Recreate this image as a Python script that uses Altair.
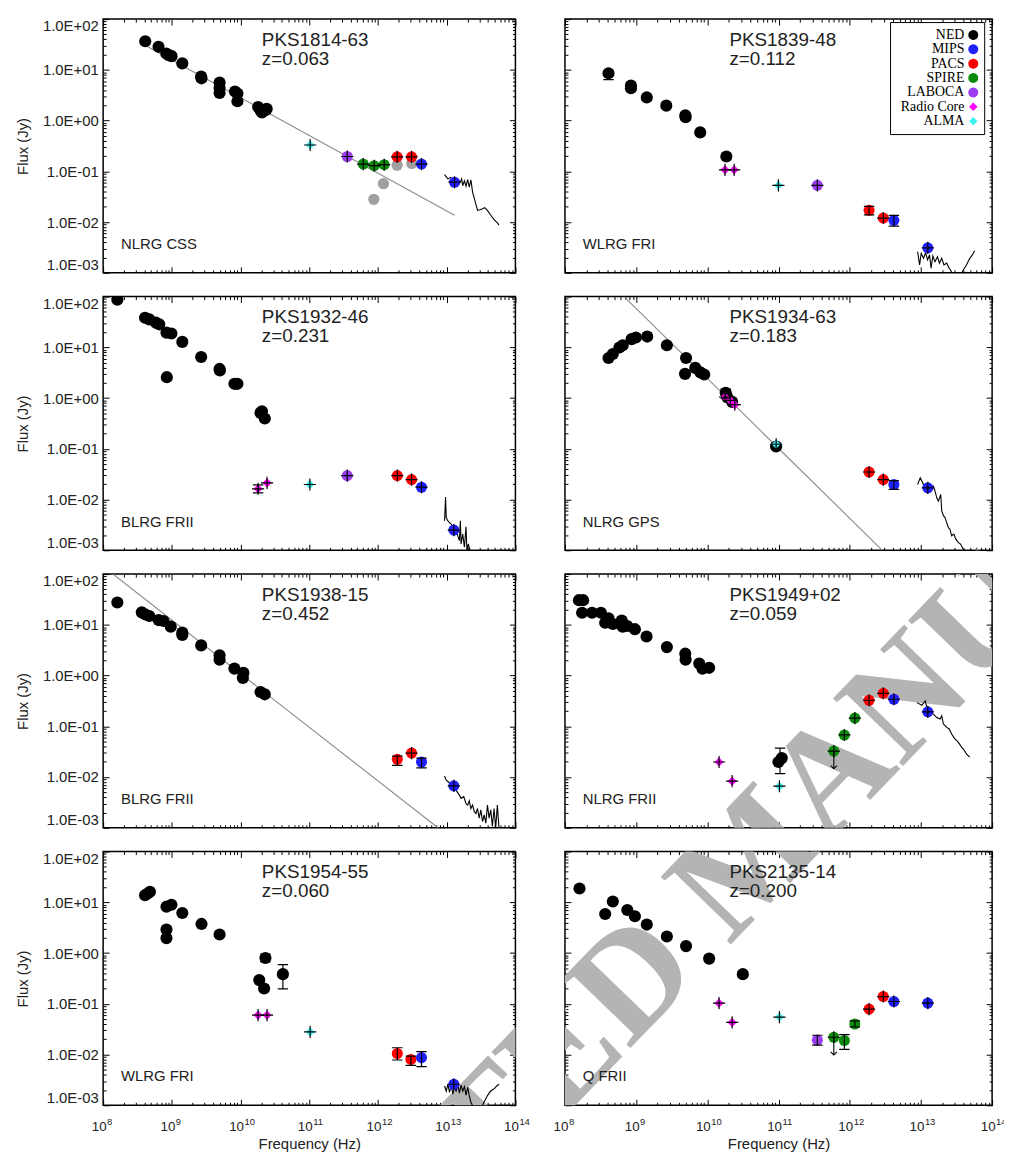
import math
import altair as alt
import pandas as pd

# ---------------- axis ranges and tick values ----------------
X_DOMAIN = [1e8, 1e14]
Y_DOMAIN = [1e-3, 1e2]
X_MAJOR = [1e8, 1e9, 1e10, 1e11, 1e12, 1e13, 1e14]
X_MINOR = [m * 10.0 ** e for e in range(8, 14) for m in range(2, 10)]
Y_MAJOR = [1e-3, 1e-2, 1e-1, 1e0, 1e1, 1e2]
Y_MINOR = [m * 10.0 ** e for e in range(-3, 2) for m in range(2, 10)]

INSTRUMENTS = ["NED", "MIPS", "PACS", "SPIRE", "LABOCA", "Radio Core", "ALMA"]
INST_COLORS = ["#000000", "#2020ff", "#ff0000", "#0a8a0a", "#9b3cf0", "#ff00ff", "#3ff2f2"]
INST_SHAPES = ["circle", "circle", "circle", "circle", "circle", "diamond", "diamond"]

# ---------------- panel 1 : PKS1814-63 ----------------
P1_NED = [(4.1e8, 36.6), (6.4e8, 28.4), (8.3e8, 21.0), (9.0e8, 19.5), (9.9e8, 18.6), (1.42e9, 13.4),
          (2.67e9, 7.4), (2.7e9, 6.8), (4.95e9, 5.6), (4.95e9, 4.4), (4.95e9, 3.5), (8.3e9, 3.75),
          (9.0e9, 3.4), (9.0e9, 2.4), (1.8e10, 1.85), (1.95e10, 1.6), (2.05e10, 1.45), (2.3e10, 1.6),
          (2.4e10, 1.7)]
P1_OBS = [("ALMA", 1.03e11, 0.33, True), ("LABOCA", 3.57e11, 0.196, True), ("SPIRE", 6.1e11, 0.139, True),
          ("SPIRE", 8.8e11, 0.129, True), ("SPIRE", 1.23e12, 0.135, True), ("PACS", 1.9e12, 0.193, True),
          ("PACS", 3.08e12, 0.193, True), ("MIPS", 4.3e12, 0.139, True), ("MIPS", 1.3e13, 0.061, True)]
P1_GRAY = [(8.7e11, 0.028), (1.2e12, 0.057), (1.9e12, 0.132), (3.1e12, 0.143)]
P1_FIT = [(4.07e8, 30.6), (1.3e13, 0.0136)]
P1_ERR = []
P1_UL = []
P1_SPEC_NU = [9.3e12, 1.04e13, 1.14e13, 1.30e13, 1.53e13, 1.65e13, 1.71e13, 1.81e13, 1.91e13, 2.02e13,
              2.13e13, 2.25e13, 2.38e13, 2.57e13, 2.81e13, 3.07e13, 3.32e13, 3.58e13, 3.91e13, 4.38e13,
              4.89e13, 5.46e13, 5.77e13]
P1_SPEC_F = [0.086, 0.071, 0.076, 0.061, 0.056, 0.071, 0.052, 0.065, 0.051, 0.069, 0.049, 0.068, 0.039,
             0.0267, 0.017, 0.0175, 0.0183, 0.0192, 0.017, 0.0136, 0.0112, 0.0096, 0.0087]

# ---------------- panel 2 : PKS1839-48 ----------------
P2_NED = [(4.09e8, 8.56), (8.45e8, 4.9), (8.45e8, 4.36), (1.41e9, 2.86), (2.65e9, 1.97), (4.91e9, 1.27),
          (4.95e9, 1.16), (7.94e9, 0.585), (1.85e10, 0.196)]
P2_OBS = [("Radio Core", 1.77e10, 0.107, True), ("Radio Core", 2.38e10, 0.107, True),
          ("ALMA", 9.96e10, 0.053, True), ("LABOCA", 3.51e11, 0.053, True), ("PACS", 1.87e12, 0.017, False),
          ("PACS", 2.96e12, 0.012, True), ("MIPS", 4.17e12, 0.0108, False), ("MIPS", 1.25e13, 0.0031, True)]
P2_GRAY = []
P2_FIT = []
P2_ERR = [(4.09e8, 6.4, 9.6), (1.41e9, 2.55, 3.1), (1.87e12, 0.0138, 0.0204), (4.17e12, 0.0083, 0.0136)]
P2_UL = []
P2_SPEC_NU = [8.99e12, 9.58e12, 1.01e13, 1.09e13, 1.16e13, 1.24e13, 1.32e13, 1.39e13, 1.47e13, 1.58e13,
              1.71e13, 1.82e13, 1.96e13, 2.11e13, 2.30e13, 2.50e13, 2.70e13, 3.00e13, 3.34e13, 3.72e13,
              4.00e13, 4.36e13, 4.85e13, 5.28e13, 5.69e13]
P2_SPEC_F = [0.00261, 0.00143, 0.00242, 0.00193, 0.00249, 0.0018, 0.00225, 0.00123, 0.00215, 0.00166,
             0.00208, 0.00155, 0.00193, 0.00143, 0.00155, 0.00123, 0.00103, 0.00098, 0.001, 0.00098,
             0.00118, 0.00143, 0.00193, 0.00225, 0.00273]

# ---------------- panel 3 : PKS1932-46 ----------------
P3_NED = [(1.61e8, 87.0), (4.07e8, 38.3), (4.7e8, 35.6), (5.87e8, 30.6), (6.55e8, 28.4), (8.35e8, 19.5),
          (9.86e8, 18.7), (1.42e9, 12.8), (2.67e9, 6.44), (4.95e9, 3.75), (5.0e9, 3.5), (8.45e8, 2.58),
          (8.14e9, 1.91), (9.0e9, 1.91), (1.95e10, 0.51), (2.05e10, 0.55), (2.25e10, 0.396)]
P3_OBS = [("Radio Core", 1.8e10, 0.0163, True), ("Radio Core", 2.43e10, 0.0213, True),
          ("ALMA", 1.02e11, 0.0198, True), ("LABOCA", 3.57e11, 0.0296, True), ("PACS", 1.91e12, 0.0296, True),
          ("PACS", 3.08e12, 0.0247, True), ("MIPS", 4.3e12, 0.0175, True), ("MIPS", 1.27e13, 0.0025, True)]
P3_GRAY = []
P3_FIT = []
P3_ERR = [(1.8e10, 0.0135, 0.0195)]
P3_UL = []
P3_SPEC_NU = [9.31e12, 9.62e12, 9.84e12, 1.04e13, 1.16e13, 1.27e13, 1.37e13, 1.45e13, 1.53e13, 1.58e13,
              1.62e13, 1.71e13, 1.81e13, 1.91e13, 1.97e13, 2.06e13, 2.20e13]
P3_SPEC_F = [0.0038, 0.0112, 0.00442, 0.0038, 0.00327, 0.00281, 0.00242, 0.00193, 0.00155, 0.0038,
             0.00133, 0.00208, 0.00115, 0.0029, 0.00098, 0.00133, 0.00098]

# ---------------- panel 4 : PKS1934-63 ----------------
P4_NED = [(4.09e8, 6.15), (4.7e8, 7.37), (5.82e8, 9.94), (6.47e8, 11.0), (8.63e8, 14.5), (9.9e8, 15.6),
          (1.43e9, 16.3), (2.7e9, 11.0), (5.02e9, 6.15), (4.86e9, 3.0), (6.76e9, 3.93), (8.0e9, 3.2),
          (9.03e9, 2.91), (1.81e10, 1.27), (1.9e10, 1.05), (2.23e10, 0.84), (9.25e10, 0.111)]
P4_OBS = [("Radio Core", 1.77e10, 1.05, True), ("Radio Core", 2.1e10, 0.9, True),
          ("Radio Core", 2.43e10, 0.74, True), ("ALMA", 9.25e10, 0.123, True), ("PACS", 1.87e12, 0.0349, True),
          ("PACS", 2.96e12, 0.0247, True), ("MIPS", 4.17e12, 0.0198, False), ("MIPS", 1.25e13, 0.017, True)]
P4_GRAY = []
P4_FIT = [(6.75e8, 100.0), (2.87e12, 1e-3)]
P4_ERR = [(1.81e10, 1.0, 1.5), (4.17e12, 0.0158, 0.0236)]
P4_UL = []
P4_SPEC_NU = [8.99e12, 9.79e12, 1.09e13, 1.28e13, 1.50e13, 1.58e13, 1.67e13, 1.76e13, 1.90e13, 1.96e13,
              2.07e13, 2.18e13, 2.30e13, 2.43e13, 2.56e13, 2.70e13, 2.90e13, 3.10e13, 3.34e13, 3.60e13,
              3.92e13, 4.13e13]
P4_SPEC_F = [0.0198, 0.0267, 0.0198, 0.0175, 0.0183, 0.0146, 0.0108, 0.0093, 0.0126, 0.006, 0.0048,
             0.0044, 0.0035, 0.0028, 0.0026, 0.00193, 0.00208, 0.00166, 0.00143, 0.00133, 0.00106, 0.00098]

# ---------------- panel 5 : PKS1938-15 ----------------
P5_NED = [(1.61e8, 27.5), (3.65e8, 17.6), (4.07e8, 16.1), (4.7e8, 14.9), (6.41e8, 12.4), (7.56e8, 11.9),
          (9.64e8, 9.2), (1.42e9, 7.05), (1.42e9, 6.3), (2.67e9, 3.93), (4.95e9, 2.5), (4.95e9, 2.06),
          (8.14e9, 1.37), (1.1e10, 1.13), (1.08e10, 0.9), (1.95e10, 0.474), (2.25e10, 0.427)]
P5_OBS = [("PACS", 1.91e12, 0.0223, False), ("PACS", 3.08e12, 0.0296, True),
          ("MIPS", 4.3e12, 0.0198, False), ("MIPS", 1.27e13, 0.0067, True)]
P5_GRAY = []
P5_FIT = [(1.39e8, 100.0), (7.46e12, 1e-3)]
P5_ERR = [(1.91e12, 0.017, 0.0259), (4.3e12, 0.0151, 0.0236)]
P5_UL = []
P5_SPEC_NU = [9.31e12, 9.84e12, 1.06e13, 1.16e13, 1.30e13, 1.42e13, 1.53e13, 1.62e13, 1.77e13, 1.91e13,
              2.02e13, 2.13e13, 2.25e13, 2.38e13, 2.52e13, 2.66e13, 2.81e13, 2.97e13, 3.14e13, 3.32e13,
              3.51e13, 3.71e13, 3.92e13, 4.14e13, 4.38e13, 4.62e13, 4.89e13, 5.16e13, 5.46e13, 5.77e13]
P5_SPEC_F = [0.0105, 0.0087, 0.008, 0.0069, 0.0061, 0.0051, 0.0044, 0.0038, 0.0041, 0.003, 0.0028, 0.0034,
             0.0024, 0.0028, 0.0021, 0.0019, 0.0024, 0.00155, 0.00225, 0.00133, 0.0018, 0.00123, 0.0028,
             0.00155, 0.00225, 0.00106, 0.0024, 0.00098, 0.0028, 0.00098]

# ---------------- panel 6 : PKS1949+02 ----------------
P6_NED = [(1.57e8, 30.6), (1.8e8, 30.6), (1.74e8, 17.3), (2.4e8, 17.3), (3.2e8, 17.3), (3.67e8, 11.0),
          (4.09e8, 13.4), (4.7e8, 10.4), (6.27e8, 12.1), (6.47e8, 9.2), (7.5e8, 9.5), (9.6e8, 8.2),
          (1.4e9, 5.9), (2.7e9, 3.64), (4.9e9, 2.7), (4.95e9, 2.06), (7.7e9, 1.72), (8.55e9, 1.36),
          (1.06e10, 1.42), (9.96e10, 0.0198), (1.11e11, 0.0236)]
P6_OBS = [("Radio Core", 1.46e10, 0.0198, True), ("Radio Core", 2.23e10, 0.0083, True),
          ("ALMA", 1.03e11, 0.0066, True), ("SPIRE", 5.98e11, 0.0324, True), ("SPIRE", 8.41e11, 0.0675, True),
          ("SPIRE", 1.18e12, 0.145, True), ("PACS", 1.87e12, 0.326, True), ("PACS", 2.96e12, 0.447, True),
          ("MIPS", 4.17e12, 0.341, True), ("MIPS", 1.25e13, 0.193, True)]
P6_GRAY = []
P6_FIT = []
P6_ERR = [(1.05e11, 0.0117, 0.037)]
P6_UL = [(5.98e11, 0.0324, 0.0146)]
P6_SPEC_NU = [8.8e12, 1.03e13, 1.15e13, 1.21e13, 1.35e13, 1.50e13, 1.67e13, 1.86e13, 1.96e13, 2.07e13,
              2.30e13, 2.50e13, 2.70e13, 3.00e13, 3.34e13, 3.72e13, 3.92e13, 4.36e13, 4.85e13]
P6_SPEC_F = [0.293, 0.26, 0.316, 0.234, 0.193, 0.174, 0.149, 0.139, 0.161, 0.111, 0.0953, 0.0885, 0.0706,
             0.0564, 0.0486, 0.0388, 0.036, 0.0287, 0.0247]

# ---------------- panel 7 : PKS1954-55 ----------------
P7_NED = [(4.07e8, 13.8), (4.45e8, 14.9), (4.8e8, 16.1), (8.35e8, 8.2), (9.86e8, 8.95), (8.35e8, 2.91),
          (8.35e8, 1.97), (1.42e9, 6.15), (2.7e9, 3.75), (4.95e9, 2.32), (2.3e10, 0.8), (1.87e10, 0.293),
          (2.2e10, 0.2), (4.13e10, 0.384)]
P7_OBS = [("Radio Core", 1.8e10, 0.0599, True), ("Radio Core", 2.43e10, 0.0599, True),
          ("ALMA", 1.03e11, 0.0279, True), ("PACS", 1.91e12, 0.0105, False), ("PACS", 3.01e12, 0.008, False),
          ("MIPS", 4.3e12, 0.0087, False), ("MIPS", 1.27e13, 0.0026, True)]
P7_GRAY = []
P7_FIT = []
P7_ERR = [(2.3e10, 0.68, 0.95), (4.13e10, 0.196, 0.593), (1.91e12, 0.0078, 0.0136),
          (3.01e12, 0.0061, 0.0093), (4.3e12, 0.0058, 0.0114)]
P7_UL = []
P7_SPEC_NU = [9.31e12, 9.84e12, 1.04e13, 1.10e13, 1.16e13, 1.23e13, 1.30e13, 1.37e13, 1.45e13, 1.53e13,
              1.62e13, 1.71e13, 1.81e13, 1.91e13, 2.02e13, 2.13e13, 2.25e13, 2.38e13, 2.81e13, 3.32e13,
              3.58e13, 3.92e13, 4.28e13, 4.62e13, 4.99e13, 5.34e13, 5.77e13]
P7_SPEC_F = [0.0024, 0.0019, 0.0026, 0.0018, 0.0025, 0.00166, 0.0024, 0.00185, 0.0027, 0.00174, 0.0025,
             0.0019, 0.00235, 0.00159, 0.00225, 0.00155, 0.00115, 0.00098, 0.00098, 0.001, 0.00123,
             0.00155, 0.00185, 0.00202, 0.00215, 0.0024, 0.0026]

# ---------------- panel 8 : PKS2135-14 ----------------
P8_NED = [(1.6e8, 18.7), (3.67e8, 5.89), (4.7e8, 10.4), (7.51e8, 7.05), (9.6e8, 5.3), (1.41e9, 3.64),
          (2.7e9, 2.12), (5.02e9, 1.37), (1.06e10, 0.778), (3.15e10, 0.384)]
P8_OBS = [("Radio Core", 1.46e10, 0.103, True), ("Radio Core", 2.23e10, 0.043, True),
          ("ALMA", 1.03e11, 0.0547, True), ("LABOCA", 3.51e11, 0.0192, False), ("SPIRE", 5.98e11, 0.0219, True),
          ("SPIRE", 8.41e11, 0.0189, False), ("SPIRE", 1.18e12, 0.04, False), ("PACS", 1.87e12, 0.0785, True),
          ("PACS", 2.96e12, 0.139, True), ("MIPS", 4.17e12, 0.111, True), ("MIPS", 1.25e13, 0.103, True)]
P8_GRAY = []
P8_FIT = []
P8_ERR = [(3.15e10, 0.34, 0.43), (3.51e11, 0.0153, 0.024), (8.41e11, 0.0126, 0.0247), (1.18e12, 0.035, 0.046)]
P8_UL = [(5.98e11, 0.0219, 0.0098)]
P8_SPEC_NU = []
P8_SPEC_F = []

NAMES = ["PKS1814-63", "PKS1839-48", "PKS1932-46", "PKS1934-63", "PKS1938-15", "PKS1949+02",
         "PKS1954-55", "PKS2135-14"]
REDSHIFTS = ["z=0.063", "z=0.112", "z=0.231", "z=0.183", "z=0.452", "z=0.059", "z=0.060", "z=0.200"]
CLASSES = ["NLRG CSS", "WLRG FRI", "BLRG FRII", "NLRG GPS", "BLRG FRII", "NLRG FRII", "WLRG FRI", "Q FRII"]

# diagonal publisher stamp over the lower right part of the figure
WATERMARK = "ACCEPTED MANUSCRIPT"
WATERMARK_PANELS = [3, 5, 6, 7]

PANELS = [
    dict(ned=P1_NED, obs=P1_OBS, gray=P1_GRAY, fit=P1_FIT, err=P1_ERR, ul=P1_UL, snu=P1_SPEC_NU, sf=P1_SPEC_F),
    dict(ned=P2_NED, obs=P2_OBS, gray=P2_GRAY, fit=P2_FIT, err=P2_ERR, ul=P2_UL, snu=P2_SPEC_NU, sf=P2_SPEC_F),
    dict(ned=P3_NED, obs=P3_OBS, gray=P3_GRAY, fit=P3_FIT, err=P3_ERR, ul=P3_UL, snu=P3_SPEC_NU, sf=P3_SPEC_F),
    dict(ned=P4_NED, obs=P4_OBS, gray=P4_GRAY, fit=P4_FIT, err=P4_ERR, ul=P4_UL, snu=P4_SPEC_NU, sf=P4_SPEC_F),
    dict(ned=P5_NED, obs=P5_OBS, gray=P5_GRAY, fit=P5_FIT, err=P5_ERR, ul=P5_UL, snu=P5_SPEC_NU, sf=P5_SPEC_F),
    dict(ned=P6_NED, obs=P6_OBS, gray=P6_GRAY, fit=P6_FIT, err=P6_ERR, ul=P6_UL, snu=P6_SPEC_NU, sf=P6_SPEC_F),
    dict(ned=P7_NED, obs=P7_OBS, gray=P7_GRAY, fit=P7_FIT, err=P7_ERR, ul=P7_UL, snu=P7_SPEC_NU, sf=P7_SPEC_F),
    dict(ned=P8_NED, obs=P8_OBS, gray=P8_GRAY, fit=P8_FIT, err=P8_ERR, ul=P8_UL, snu=P8_SPEC_NU, sf=P8_SPEC_F),
]

# ---------------- styling / layout ----------------
SANS = "Liberation Sans"
SERIF = "Liberation Serif"
TXT = "#222222"
PLUS = "M-1,0L1,0M0,-1L0,1"
CAP = "M-1,0L1,0"
ARROW = "M-1,-1L0,0L1,-1"
# legend glyphs drawn to the right of their (right-aligned) labels: a polygonal disc and a diamond
LEG_SHIFT = 14.2
LEG_CIRCLE = "M" + "L".join(
    f"{LEG_SHIFT + math.cos(k * math.pi / 12):.3f},{math.sin(k * math.pi / 12):.3f}" for k in range(24)) + "Z"
LEG_DIAMOND = f"M{LEG_SHIFT},-0.85L{LEG_SHIFT + 0.85},0L{LEG_SHIFT},0.85L{LEG_SHIFT - 0.85},0Z"
LEG_SHAPES = [LEG_CIRCLE] * 5 + [LEG_DIAMOND] * 2
WIDTHS = [416, 431]
HEIGHT = 256
COL_GAP = 50
ROW_GAP = 24
# stamp anchor, measured from the top-left corner of the upper-left plot frame
WM_X, WM_Y, WM_SIZE, WM_ANGLE = 685, 880, 150, 314


def tick_axis(orient, values, size):
    return alt.Axis(orient=orient, values=values, ticks=True, tickSize=size, offset=-size,
                    tickColor="black", tickWidth=1, labels=False, domain=False, grid=False,
                    title=None, minExtent=0)


Y_LABEL_AXIS = alt.Axis(
    orient="left", values=Y_MAJOR, ticks=False, tickSize=0, domain=False, grid=False,
    labelExpr="'1.0E' + (datum.value >= 1 ? '+' : '-') + '0' + abs(round(log(datum.value) / LN10))",
    labelFlush=True, labelFont=SANS, labelFontSize=15, labelColor=TXT, labelPadding=5,
    labelOverlap=False, title="Flux (Jy)", titleFont=SANS, titleFontSize=15,
    titleFontWeight="normal", titleColor=TXT, titlePadding=12)

X_LABEL_AXIS = alt.Axis(
    orient="bottom", values=X_MAJOR, ticks=False, tickSize=0, domain=False, grid=False,
    labelExpr="'10'", labelAlign="right", labelOffset=3, labelFlush=False, labelOverlap=False,
    labelFont=SANS, labelFontSize=13.5, labelColor=TXT, labelPadding=14,
    title="Frequency (Hz)", titleFont=SANS, titleFontSize=15, titleFontWeight="normal",
    titleColor=TXT, titlePadding=4)

X_EXP_AXIS = alt.Axis(
    orient="bottom", values=X_MAJOR, ticks=False, tickSize=0, domain=False, grid=False,
    labelExpr="'' + round(log(datum.value) / LN10)", labelAlign="left", labelOffset=3.5,
    labelFlush=False, labelOverlap=False, labelFont=SANS, labelFontSize=9.5, labelColor=TXT,
    labelPadding=11, title=None)

LEGEND = alt.Legend(
    title=None, orient="none", legendX=328, legendY=3, direction="vertical",
    strokeColor="black", fillColor="white", padding=6, labelFont=SERIF, labelFontSize=14,
    labelColor="black", labelAlign="right", labelOffset=55, symbolOffset=0, symbolSize=100,
    symbolStrokeWidth=0, symbolOpacity=1, rowPadding=0.5, labelLimit=200)


def make_panel(i):
    p = PANELS[i]
    col, row = i % 2, i // 2
    W = WIDTHS[col]
    xs = alt.Scale(type="log", domain=X_DOMAIN, nice=False)
    ys = alt.Scale(type="log", domain=Y_DOMAIN, nice=False)
    cs = alt.Scale(domain=INSTRUMENTS, range=INST_COLORS)
    ss = alt.Scale(domain=INSTRUMENTS, range=INST_SHAPES)

    def X(field="nu", axis=None):
        return alt.X(field, type="quantitative", scale=xs, axis=axis)

    def Y(field="f", axis=None):
        return alt.Y(field, type="quantitative", scale=ys, axis=axis)

    layers = []
    if i in WATERMARK_PANELS:
        ox = 0 if col == 0 else WIDTHS[0] + COL_GAP
        oy = row * (HEIGHT + ROW_GAP)
        layers.append(alt.Chart(pd.DataFrame({"t": [WATERMARK]}))
                      .mark_text(align="center", baseline="alphabetic", font=SERIF, fontWeight="bold",
                                 fontSize=WM_SIZE, angle=WM_ANGLE, color="#b4b4b4", clip=True)
                      .encode(x=alt.value(WM_X - ox), y=alt.value(WM_Y - oy), text="t:N"))
    if p["snu"]:
        d = pd.DataFrame({"nu": p["snu"], "f": p["sf"]})
        layers.append(alt.Chart(d).mark_line(color="black", strokeWidth=1.1, clip=True)
                      .encode(x=X(), y=Y()))
    if p["fit"]:
        d = pd.DataFrame(p["fit"], columns=["nu", "f"])
        layers.append(alt.Chart(d).mark_line(color="#8a8a8a", strokeWidth=1.1, clip=True)
                      .encode(x=X(), y=Y()))
    if p["gray"]:
        d = pd.DataFrame(p["gray"], columns=["nu", "f"])
        layers.append(alt.Chart(d).mark_point(filled=True, size=130, color="#a0a0a0", opacity=1, clip=True)
                      .encode(x=X(), y=Y()))
    d = pd.DataFrame(p["ned"], columns=["nu", "f"])
    layers.append(alt.Chart(d).mark_point(filled=True, size=150, color="black", opacity=1, clip=True)
                  .encode(x=X(), y=Y()))

    obs = pd.DataFrame(p["obs"], columns=["inst", "nu", "f", "plus"])
    circ = obs[~obs["inst"].isin(["Radio Core", "ALMA"])]
    diam = obs[obs["inst"].isin(["Radio Core", "ALMA"])]
    for part, sz in ((circ, 125), (diam, 85)):
        if len(part):
            layers.append(alt.Chart(part).mark_point(filled=True, size=sz, opacity=1, clip=True)
                          .encode(x=X(), y=Y(),
                                  color=alt.Color("inst:N", scale=cs, legend=None),
                                  shape=alt.Shape("inst:N", scale=ss, legend=None)))
    plus = obs[obs["plus"]]
    if len(plus):
        layers.append(alt.Chart(plus).mark_point(shape=PLUS, size=150, filled=False, color="black",
                                                 strokeWidth=1.2, opacity=1, clip=True)
                      .encode(x=X(), y=Y()))
    if p["err"]:
        d = pd.DataFrame(p["err"], columns=["nu", "lo", "hi"])
        layers.append(alt.Chart(d).mark_rule(color="black", strokeWidth=1.2, clip=True)
                      .encode(x=X(), y=Y("lo"), y2=alt.Y2("hi")))
        dc = pd.DataFrame({"nu": list(d["nu"]) * 2, "f": list(d["lo"]) + list(d["hi"])})
        layers.append(alt.Chart(dc).mark_point(shape=CAP, size=110, filled=False, color="black",
                                               strokeWidth=1.2, opacity=1, clip=True)
                      .encode(x=X(), y=Y()))
    if p["ul"]:
        d = pd.DataFrame(p["ul"], columns=["nu", "f", "tip"])
        layers.append(alt.Chart(d).mark_rule(color="black", strokeWidth=1.1, clip=True)
                      .encode(x=X(), y=Y("f"), y2=alt.Y2("tip")))
        layers.append(alt.Chart(d).mark_point(shape=ARROW, size=40, filled=False, color="black",
                                              strokeWidth=1.1, opacity=1, clip=True)
                      .encode(x=X(), y=Y("tip")))

    if i == 1:
        # legend-only layer (its own colour/shape scales; the marks themselves are invisible)
        lg = pd.DataFrame({"inst": INSTRUMENTS})
        layers.append(alt.Chart(lg).mark_point(filled=True, size=100, opacity=0)
                      .encode(x=alt.value(0), y=alt.value(0),
                              color=alt.Color("inst:N", scale=alt.Scale(domain=INSTRUMENTS, range=INST_COLORS),
                                              legend=LEGEND),
                              shape=alt.Shape("inst:N", scale=alt.Scale(domain=INSTRUMENTS, range=LEG_SHAPES),
                                              legend=LEGEND)))

    # axes (inward ticks on all four sides, labels on outer edges)
    dom = pd.DataFrame({"nu": X_DOMAIN, "f": Y_DOMAIN})

    def carrier(xa, ya):
        return alt.Chart(dom).mark_point(opacity=0, size=1, clip=True).encode(x=X("nu", xa), y=Y("f", ya))

    layers.append(carrier(tick_axis("bottom", X_MAJOR, 6), tick_axis("left", Y_MAJOR, 6)))
    layers.append(carrier(tick_axis("bottom", X_MINOR, 3), tick_axis("left", Y_MINOR, 3)))
    layers.append(carrier(tick_axis("top", X_MAJOR, 6), tick_axis("right", Y_MAJOR, 6)))
    layers.append(carrier(tick_axis("top", X_MINOR, 3), tick_axis("right", Y_MINOR, 3)))
    left = col == 0
    bottom = row == 3
    if left or bottom:
        layers.append(carrier(X_LABEL_AXIS if bottom else None, Y_LABEL_AXIS if left else None))
    if bottom:
        layers.append(carrier(X_EXP_AXIS, None))

    # annotations
    for txt, xv, yv, fs in ((NAMES[i], 0.385 * W, 27, 19), (REDSHIFTS[i], 0.385 * W, 46, 19),
                            (CLASSES[i], 18, 232, 15)):
        layers.append(alt.Chart(pd.DataFrame({"t": [txt]}))
                      .mark_text(align="left", baseline="alphabetic", font=SANS, fontSize=fs, color=TXT)
                      .encode(x=alt.value(xv), y=alt.value(yv), text="t:N"))

    out = (alt.layer(*layers).properties(width=W, height=HEIGHT)
           .resolve_axis(x="independent", y="independent"))
    if i == 1:
        out = out.resolve_scale(color="independent", shape="independent")
    return out


panels = [make_panel(i) for i in range(8)]

chart = (alt.concat(*panels, columns=2, spacing={"row": ROW_GAP, "column": COL_GAP}, bounds="flush",
                    align="each")
         .resolve_scale(color="independent", shape="independent")
         .configure_view(stroke="black", strokeWidth=1.5)
         .properties(padding={"left": 6, "top": 0, "right": -3, "bottom": -1}, background="white"))

chart.save("out.html", embed_options={"renderer": "svg", "actions": False})
